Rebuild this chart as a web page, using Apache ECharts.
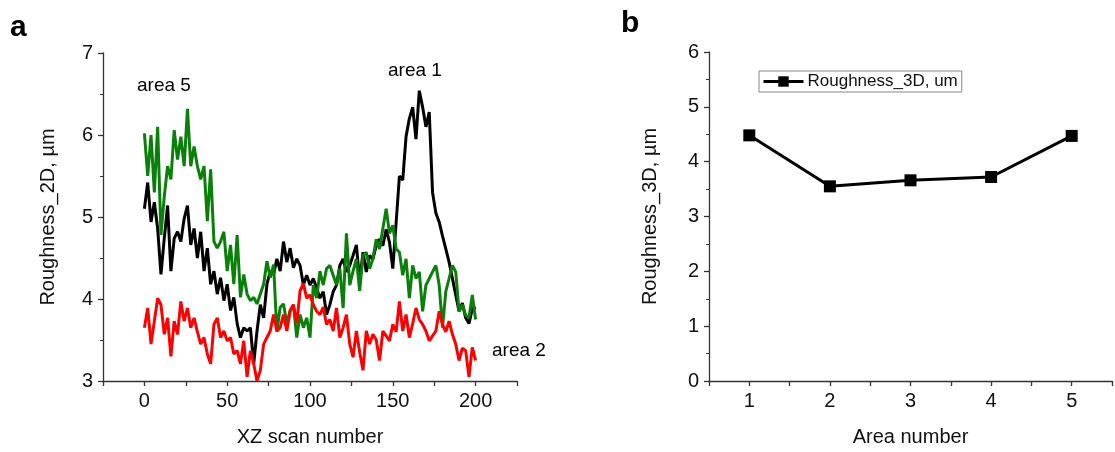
<!DOCTYPE html>
<html>
<head>
<meta charset="utf-8">
<script src="https://cdn.jsdelivr.net/npm/echarts@6/dist/echarts.min.js"></script>
<style>
  html, body { margin: 0; padding: 0; background: #fff; }
  #chart { width: 1115px; height: 452px; }
</style>
</head>
<body>
<div id="chart"></div>
<script>
// panel a: roughness along XZ scans (sampled every 2nd scan)
var scanNo = [];
for (var i = 0; i <= 200; i += 2) scanNo.push(i);

var area1 = [
  5.10, 5.42, 4.94, 5.18, 4.86, 4.30, 4.74, 5.14, 4.34, 4.74,
  4.82, 4.70, 4.98, 5.14, 4.66, 4.86, 4.50, 4.82, 4.34, 4.62,
  4.18, 4.34, 4.06, 4.26, 3.98, 4.18, 3.86, 4.02, 3.70, 3.53,
  3.65, 3.61, 3.65, 3.21, 3.61, 3.93, 3.77, 4.18, 4.34, 4.30,
  4.49, 4.34, 4.70, 4.45, 4.62, 4.38, 4.49, 4.41, 4.17, 4.29,
  4.17, 4.25, 4.13, 4.01, 4.09, 3.81, 3.93, 4.09, 4.17, 4.41,
  4.49, 4.33, 4.41, 4.53, 4.66, 4.21, 4.57, 4.33, 4.53, 4.49,
  4.65, 4.73, 4.65, 4.85, 4.69, 4.37, 4.93, 5.50, 5.45, 5.98,
  6.20, 6.34, 5.95, 6.54, 6.34, 6.10, 6.28, 5.30, 5.05, 4.94,
  4.77, 4.61, 4.45, 4.25, 4.05, 3.85, 3.95, 3.77, 3.70, 3.88,
  3.90
];
var area5 = [
  6.02, 5.50, 6.00, 5.30, 6.10, 4.78, 5.25, 5.62, 5.46, 6.06,
  5.70, 5.98, 5.62, 6.32, 5.62, 5.86, 5.62, 5.46, 5.62, 4.95,
  5.58, 4.70, 4.62, 4.70, 4.82, 4.34, 4.66, 4.18, 4.78, 4.02,
  4.30, 4.06, 3.98, 4.02, 3.94, 4.06, 4.18, 4.46, 4.26, 4.42,
  3.60, 3.90, 3.94, 3.70, 3.86, 3.93, 3.53, 3.81, 3.65, 3.77,
  3.53, 4.17, 4.01, 4.34, 4.17, 4.37, 4.41, 4.29, 4.17, 4.37,
  3.89, 4.80, 4.17, 4.34, 4.49, 4.10, 4.53, 4.57, 4.37, 4.49,
  4.73, 4.61, 4.86, 5.10, 4.80, 4.90, 4.61, 4.57, 4.29, 4.49,
  4.01, 4.41, 4.25, 4.33, 3.85, 4.17, 4.25, 4.33, 4.41, 4.17,
  3.65, 4.09, 4.25, 4.41, 4.33, 3.85, 3.93, 3.80, 3.77, 4.05,
  3.75
];
var area2 = [
  3.65, 3.89, 3.45, 3.73, 4.01, 3.93, 3.57, 3.77, 3.30, 3.73,
  3.57, 3.97, 3.73, 3.89, 3.65, 3.77, 3.60, 3.45, 3.53, 3.33,
  3.21, 3.69, 3.77, 3.53, 3.61, 3.49, 3.53, 3.33, 3.37, 3.21,
  3.49, 3.05, 3.37, 3.21, 3.00, 3.13, 3.45, 3.53, 3.61, 3.81,
  3.61, 3.65, 3.81, 3.61, 3.85, 3.93, 3.70, 4.10, 4.19, 4.01,
  4.05, 3.93, 3.85, 3.81, 3.90, 3.69, 3.75, 3.61, 3.89, 3.53,
  3.65, 3.81, 3.45, 3.29, 3.61, 3.35, 3.13, 3.61, 3.45, 3.57,
  3.50, 3.25, 3.61, 3.55, 3.49, 3.69, 3.60, 3.97, 3.61, 3.81,
  3.53, 3.70, 3.89, 3.75, 3.69, 3.61, 3.49, 3.55, 3.61, 3.85,
  3.69, 3.60, 3.73, 3.57, 3.45, 3.25, 3.40, 3.37, 3.05, 3.41,
  3.25
];

// panel b: 3D roughness per area
var areaNo = [1, 2, 3, 4, 5];
var rough3d = [4.48, 3.55, 3.66, 3.72, 4.47];

function pairs(xs, ys) {
  return ys.map(function(v, k) { return [xs[k], v]; });
}

var font = '"Liberation Sans", Arial, sans-serif';
var axisCommon = {
  axisLine: { show: true, onZero: false, lineStyle: { color: '#333', width: 1.3 } },
  axisTick: { show: true, inside: false, length: 5, lineStyle: { color: '#333', width: 1.3 } },
  minorTick: { show: true, splitNumber: 2, length: 3, lineStyle: { color: '#333', width: 1 } },
  splitLine: { show: false },
  nameLocation: 'middle',
  nameTextStyle: { color: '#111', fontSize: 20, fontFamily: font }
};
function axis(extra) {
  var o = JSON.parse(JSON.stringify(axisCommon));
  for (var k in extra) o[k] = extra[k];
  return o;
}

var chart = echarts.init(document.getElementById('chart'), null, { renderer: 'canvas' });
chart.setOption({
  animation: false,
  backgroundColor: '#fff',
  textStyle: { fontFamily: font },
  grid: [
    { left: 103, top: 53, width: 414, height: 331 },
    { left: 709, top: 52, width: 412, height: 332 }
  ],
  xAxis: [
    axis({
      gridIndex: 0, type: 'value', min: -25, max: 225, interval: 25,
      minorTick: { show: false },
      name: 'XZ scan number', nameGap: 46,
      axisLabel: {
        color: '#111', fontSize: 20, margin: 10, fontFamily: font,
        formatter: function(v) { return (v % 50 === 0 && v >= 0 && v <= 200) ? String(v) : ''; }
      }
    }),
    axis({
      gridIndex: 1, type: 'value', min: 0.5, max: 5.5, interval: 0.5,
      minorTick: { show: false },
      name: 'Area number', nameGap: 46,
      axisLabel: {
        color: '#111', fontSize: 20, margin: 10, fontFamily: font,
        formatter: function(v) { return (v % 1 === 0) ? String(v) : ''; }
      }
    })
  ],
  yAxis: [
    axis({
      gridIndex: 0, type: 'value', min: 3, max: 7, interval: 1,
      name: 'Roughness_2D, µm', nameGap: 45,
      axisLabel: { color: '#111', fontSize: 20, margin: 10, fontFamily: font }
    }),
    axis({
      gridIndex: 1, type: 'value', min: 0, max: 6, interval: 1,
      name: 'Roughness_3D, µm', nameGap: 49,
      axisLabel: { color: '#111', fontSize: 20, margin: 10, fontFamily: font }
    })
  ],
  legend: {
    data: ['Roughness_3D, um'],
    left: 759, top: 71,
    padding: [2, 4, 2, 3],
    itemWidth: 40, itemHeight: 13,
    borderColor: '#888', borderWidth: 1,
    lineStyle: { width: 3 },
    textStyle: { color: '#111', fontSize: 17, fontFamily: font, padding: [0, 0, 0, -1] }
  },
  series: [
    {
      name: 'area 1', type: 'line', xAxisIndex: 0, yAxisIndex: 0,
      data: pairs(scanNo, area1), showSymbol: false,
      lineStyle: { color: '#000', width: 3 }, itemStyle: { color: '#000' }
    },
    {
      name: 'area 5', type: 'line', xAxisIndex: 0, yAxisIndex: 0,
      data: pairs(scanNo, area5), showSymbol: false,
      lineStyle: { color: '#0a800a', width: 3 }, itemStyle: { color: '#0a800a' }
    },
    {
      name: 'area 2', type: 'line', xAxisIndex: 0, yAxisIndex: 0,
      data: pairs(scanNo, area2), showSymbol: false,
      lineStyle: { color: '#ff0000', width: 3 }, itemStyle: { color: '#ff0000' }
    },
    {
      name: 'Roughness_3D, um', type: 'line', xAxisIndex: 1, yAxisIndex: 1,
      data: pairs(areaNo, rough3d),
      symbol: 'rect', symbolSize: 12,
      lineStyle: { color: '#000', width: 3 }, itemStyle: { color: '#000' }
    }
  ],
  graphic: [
    { type: 'text', left: 10, top: 13, style: { text: 'a', font: 'bold 30px ' + font, fill: '#000' } },
    { type: 'text', left: 621, top: 9, style: { text: 'b', font: 'bold 30px ' + font, fill: '#000' } },
    { type: 'text', left: 137, top: 76, style: { text: 'area 5', font: '19px ' + font, fill: '#000' } },
    { type: 'text', left: 388, top: 61, style: { text: 'area 1', font: '19px ' + font, fill: '#000' } },
    { type: 'text', left: 492, top: 341, style: { text: 'area 2', font: '19px ' + font, fill: '#000' } }
  ]
});
</script>
</body>
</html>
